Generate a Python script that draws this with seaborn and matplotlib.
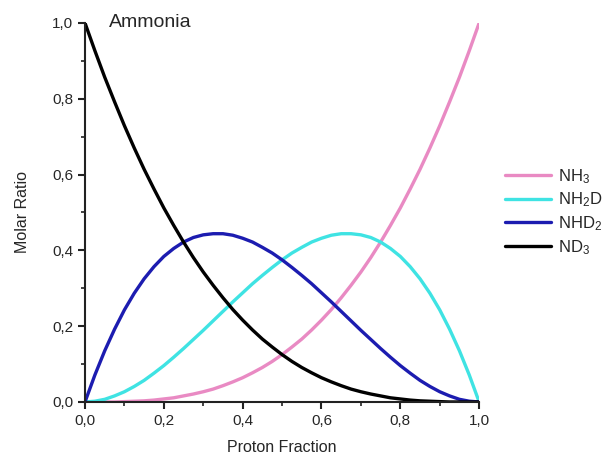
import numpy as np
import pandas as pd
import seaborn as sns
import matplotlib.pyplot as plt
from matplotlib.ticker import MultipleLocator, FuncFormatter

# ----- values -----
proton_fraction = [i / 40 for i in range(41)]

nh3 = [0.000, 0.000, 0.000, 0.000, 0.001, 0.002, 0.003, 0.005, 0.008, 0.011,
       0.016, 0.021, 0.027, 0.034, 0.043, 0.053, 0.064, 0.077, 0.091, 0.107,
       0.125, 0.145, 0.166, 0.190, 0.216, 0.244, 0.275, 0.308, 0.343, 0.381,
       0.422, 0.466, 0.512, 0.562, 0.614, 0.670, 0.729, 0.792, 0.857, 0.927,
       1.000]
nh2d = [0.000, 0.002, 0.007, 0.016, 0.027, 0.041, 0.057, 0.076, 0.096, 0.118,
        0.141, 0.165, 0.189, 0.214, 0.239, 0.264, 0.288, 0.312, 0.334, 0.355,
        0.375, 0.393, 0.408, 0.422, 0.432, 0.440, 0.444, 0.444, 0.441, 0.434,
        0.422, 0.405, 0.384, 0.357, 0.325, 0.287, 0.243, 0.192, 0.135, 0.071,
        0.000]
nhd2 = [0.000, 0.071, 0.135, 0.192, 0.243, 0.287, 0.325, 0.357, 0.384, 0.405,
        0.422, 0.434, 0.441, 0.444, 0.444, 0.440, 0.432, 0.422, 0.408, 0.393,
        0.375, 0.355, 0.334, 0.312, 0.288, 0.264, 0.239, 0.214, 0.189, 0.165,
        0.141, 0.118, 0.096, 0.076, 0.057, 0.041, 0.027, 0.016, 0.007, 0.002,
        0.000]
nd3 = [1.000, 0.927, 0.857, 0.792, 0.729, 0.670, 0.614, 0.562, 0.512, 0.466,
       0.422, 0.381, 0.343, 0.308, 0.275, 0.244, 0.216, 0.190, 0.166, 0.145,
       0.125, 0.107, 0.091, 0.077, 0.064, 0.053, 0.043, 0.034, 0.027, 0.021,
       0.016, 0.011, 0.008, 0.005, 0.003, 0.002, 0.001, 0.000, 0.000, 0.000,
       0.000]

species = [r"NH$_3$", r"NH$_2$D", r"NHD$_2$", r"ND$_3$"]
colors = ["#e98ac3", "#3fe3e3", "#1c1cb0", "#000000"]

df = pd.DataFrame({
    "x": proton_fraction * 4,
    "y": nh3 + nh2d + nhd2 + nd3,
    "species": np.repeat(species, len(proton_fraction)),
})

# ----- plot -----
sns.set_theme(style="ticks")
plt.rcParams["font.family"] = ["Liberation Sans", "DejaVu Sans"]
plt.rcParams["mathtext.fontset"] = "custom"
plt.rcParams["mathtext.rm"] = "Liberation Sans"
plt.rcParams["mathtext.it"] = "Liberation Sans"

fig = plt.figure(figsize=(6.05, 4.57), dpi=100)
ax = fig.add_axes([0.1405, 0.1204, 0.6515, 0.8293])

sns.lineplot(data=df, x="x", y="y", hue="species", hue_order=species,
             palette=colors, linewidth=2.4, ax=ax, legend=False)

ax.set_xlim(0, 1)
ax.set_ylim(0, 1)
ax.xaxis.set_major_locator(MultipleLocator(0.2))
ax.xaxis.set_minor_locator(MultipleLocator(0.1))
ax.yaxis.set_major_locator(MultipleLocator(0.2))
ax.yaxis.set_minor_locator(MultipleLocator(0.1))
comma = FuncFormatter(lambda v, p: f"{v:.1f}".replace(".", ","))
ax.xaxis.set_major_formatter(comma)
ax.yaxis.set_major_formatter(comma)

for side in ["top", "right"]:
    ax.spines[side].set_visible(False)
for side in ["left", "bottom"]:
    ax.spines[side].set_linewidth(1.5)
    ax.spines[side].set_color("#222222")
ax.tick_params(which="major", length=5, width=1.5, labelsize=11, color="#222222")
ax.tick_params(which="minor", length=3, width=1.2, color="#222222")

ax.set_xlabel("Proton Fraction", fontsize=11.5, labelpad=9)
ax.set_ylabel("Molar Ratio", fontsize=11.5, labelpad=16)
ax.text(0.06, 1.0, "Ammonia", transform=ax.transAxes, fontsize=14,
        ha="left", va="center")

handles = [plt.Line2D([], [], color=c, linewidth=2.4) for c in colors]
fig.legend(handles, species, loc="upper left", bbox_to_anchor=(0.834, 0.635),
           frameon=False, fontsize=12, handlelength=2.8, handletextpad=0.4,
           labelspacing=0.3, borderpad=0, borderaxespad=0)

plt.savefig("out.png", dpi=100)
